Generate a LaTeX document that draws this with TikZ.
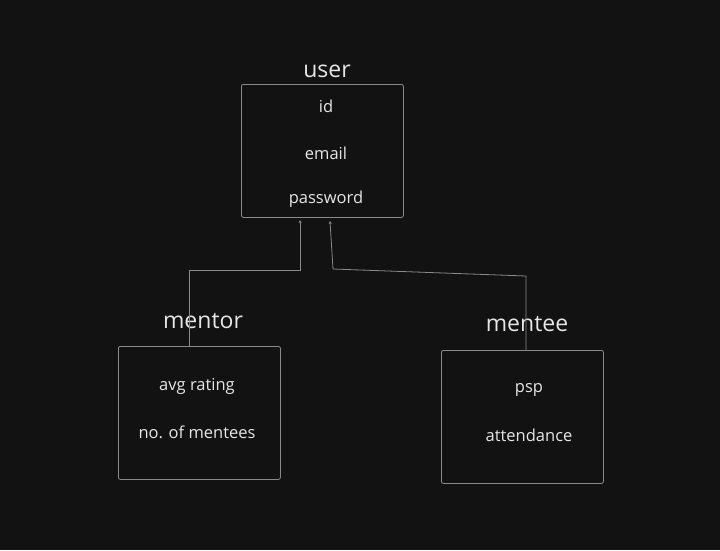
\documentclass[tikz,border=0pt]{standalone}
\usepackage{fontspec}
\setmainfont{Open Sans}
\usetikzlibrary{arrows.meta}
\definecolor{bg}{HTML}{121212}
\definecolor{fg}{HTML}{E6E6E6}
\definecolor{ln}{HTML}{8A8A8A}
\begin{document}
\begin{tikzpicture}[x=1pt,y=-1pt,
  entity/.style={draw=ln,rounded corners=2pt,line width=0.8pt,minimum width=162pt,anchor=north west,inner sep=0},
  title/.style={text=fg,font=\fontsize{23}{23}\selectfont},
  attr/.style={text=fg,font=\fontsize{16.5}{16.5}\selectfont},
  conn/.style={draw=ln,line width=0.8pt,-{Stealth[length=3pt,width=3pt]}}]
\fill[bg] (0,0) rectangle (720,550);
\useasboundingbox (0,0) rectangle (720,550);
\node[entity,minimum height=133pt] (user) at (241,84) {};
\node[entity,minimum height=133pt] (mentor) at (118,346) {};
\node[entity,minimum height=133pt] (mentee) at (441,350) {};
\node[title] (tu) at (327,71) {user};
\node[title] (tm) at (203,321) {mentor};
\node[title] (te) at (527,324) {mentee};
\node[attr] (a1) at (326,106) {id};
\node[attr] (a2) at (326,153) {email};
\node[attr] (a3) at (326,199) {password};
\node[attr] (b1) at (197,386) {avg rating};
\node[attr] (b2) at (197,432) {no. of mentees};
\node[attr] (c1) at (529,390) {psp};
\node[attr] (c2) at (529,435) {attendance};
\coordinate (m1) at (189,270);
\coordinate (m2) at (300,270);
\coordinate (e1) at (526,276);
\coordinate (e2) at (333,269);
\draw[conn] (mentor.north west -| m1) -- (m1) -- (m2) -- (300,220);
\draw[conn] (mentee.north west -| e1) -- (e1) -- (e2) -- (330,221);
\end{tikzpicture}
\end{document}
